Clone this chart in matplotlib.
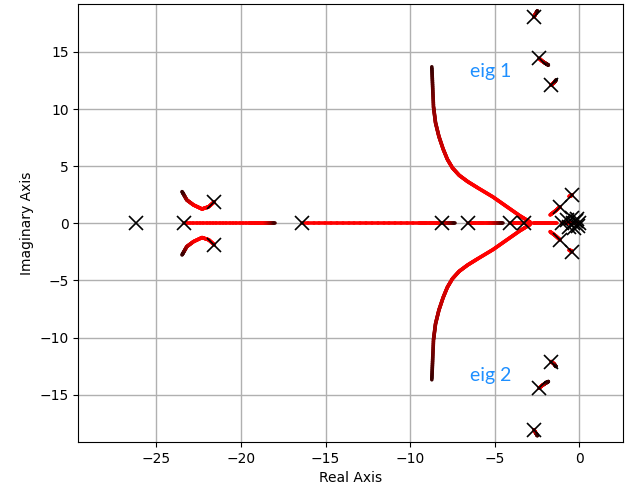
import numpy as np
import matplotlib
matplotlib.use("Agg")
import matplotlib.pyplot as plt
from matplotlib.collections import LineCollection
from matplotlib.colors import LinearSegmentedColormap

# ---- data ----
# open-loop poles (X markers)
pole_re = [-26.2, -23.39, -21.57, -21.57, -16.4, -8.13, -6.56, -4.09, -3.27,
           -2.68, -2.68, -2.38, -2.38, -1.67, -1.67, -1.14, -1.14, -0.45, -0.45,
           -1.0, -0.75, -0.6, -0.45, -0.3, -0.2, -0.1, 0.0, -0.35, -0.15]
pole_im = [0.0, 0.0, 1.89, -1.89, 0.0, 0.0, 0.0, 0.0, 0.0,
           18.08, -18.08, 14.44, -14.44, 12.1, -12.1, 1.45, -1.45, 2.48, -2.48,
           0.0, 0.3, -0.3, 0.45, -0.45, 0.2, -0.2, 0.0, 0.0, 0.35]

# complex branches (upper half; lower half is the conjugate)
eig1_re = [-2.9, -3.5, -4.33, -5.1, -6.0, -6.6, -7.1, -7.5, -7.8, -8.05,
           -8.3, -8.5, -8.62, -8.72]
eig1_im = [0.1, 0.64, 1.5, 2.3, 3.1, 3.65, 4.2, 4.85, 5.6, 6.5,
           7.6, 8.8, 10.2, 13.7]

left_re = [-21.57, -21.9, -22.3, -22.8, -23.2, -23.48]
left_im = [1.89, 1.45, 1.25, 1.6, 2.04, 2.77]

top1_re = [-2.68, -2.6, -2.48]
top1_im = [18.08, 18.3, 18.6]
top2_re = [-2.38, -2.2, -2.0, -1.83]
top2_im = [14.44, 14.2, 14.0, 13.85]
top3_re = [-1.67, -1.5, -1.38]
top3_im = [12.1, 12.3, 12.54]
near_re = [-1.14, -1.4, -1.73]
near_im = [1.45, 1.1, 0.73]
near2_re = [-0.45, -0.5, -0.6]
near2_im = [2.48, 2.4, 2.35]

# real-axis branches
real1 = [-23.39, -19.5, -18.6, -17.97]
real2 = [-16.4, -9.5, -8.2, -7.34]
real3 = [-6.56, -5.2, -4.5]
real4 = [-4.09, -3.6, -3.27, -2.9]
real5 = [-2.74, -2.0, -1.33]
real6 = [-1.0, -0.5, 0.0]

cmap = LinearSegmentedColormap.from_list(
    "loc", [(0.0, "#ff0000"), (0.35, "#d00000"), (0.7, "#880000"), (1.0, "#3a0000")])

fig = plt.figure(figsize=(6.31, 4.95), dpi=100)
ax = fig.add_axes([0.1244, 0.107, 0.8624, 0.885])


def branch(xs, ys, start=1.0, lw=2.6):
    """Draw the polyline through the read points; colour darkens past
    fraction `start` of its length (start=1 -> all red)."""
    pts = np.column_stack([xs, ys]).astype(float)
    sub = []
    for a, b in zip(pts[:-1], pts[1:]):
        f = np.linspace(0, 1, 21)[:, None]
        sub.append(a + (b - a) * f)
    path = np.vstack(sub)
    segs = np.stack([path[:-1], path[1:]], axis=1)
    seglen = np.hypot(*(segs[:, 1] - segs[:, 0]).T)
    s = np.cumsum(seglen) / max(seglen.sum(), 1e-9)
    if start >= 1.0:
        t = np.zeros_like(s)
    else:
        t = np.clip((s - start) / (1 - start), 0, 1)
    lc = LineCollection(segs, colors=cmap(t), linewidths=lw, capstyle="round",
                        joinstyle="round", zorder=2)
    ax.add_collection(lc)


for xs, ys, st in [(eig1_re, eig1_im, 0.3), (left_re, left_im, 0.55),
                   (top1_re, top1_im, 0.3), (top2_re, top2_im, 0.3),
                   (top3_re, top3_im, 0.3), (near_re, near_im, 1.0),
                   (near2_re, near2_im, 1.0)]:
    branch(xs, ys, st)
    branch(xs, [-v for v in ys], st)

for xs, st in [(real1, 0.88), (real2, 0.9), (real3, 0.6), (real4, 1.0),
               (real5, 1.0), (real6, 1.0)]:
    branch(xs, [0.0] * len(xs), st)

ax.plot(pole_re, pole_im, linestyle="none", marker="x", color="black",
        markersize=10, markeredgewidth=1.2, zorder=3)

ax.text(-6.45, 13.3, "eig 1", color="#1e8fff", fontsize=14, family=["Lato", "DejaVu Sans"],
        va="center", ha="left")
ax.text(-6.45, -13.35, "eig 2", color="#1e8fff", fontsize=14, family=["Lato", "DejaVu Sans"],
        va="center", ha="left")

ax.set_xlim(-29.6, 2.56)
ax.set_ylim(-19.15, 19.2)
ax.set_xticks([-25, -20, -15, -10, -5, 0])
ax.set_yticks([-15, -10, -5, 0, 5, 10, 15])
ax.grid(True, color="#b0b0b0", linewidth=1.0)
ax.set_axisbelow(True)
ax.set_xlabel("Real Axis")
ax.set_ylabel("Imaginary Axis")

fig.savefig("out.png", dpi=100)
